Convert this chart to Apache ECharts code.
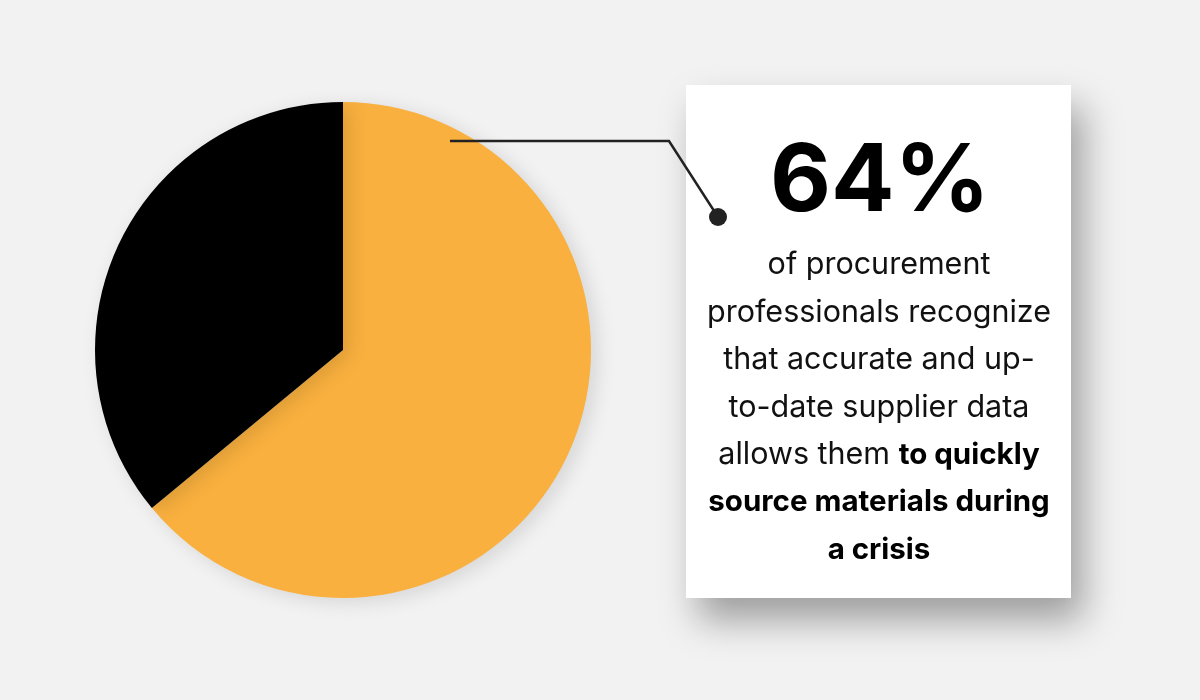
<!DOCTYPE html>
<html>
<head>
<meta charset="utf-8">
<script src="https://cdn.jsdelivr.net/npm/echarts@6/dist/echarts.min.js"></script>
<style>
  html, body { margin: 0; padding: 0; background: #f2f2f2; }
  #main { width: 1200px; height: 700px; }
</style>
</head>
<body>
<div id="main"></div>
<script>
var categories = ['Recognize', 'Other'];
var values = [64, 36];
var colors = ['#F9B03E', '#000000'];
var headline = '64%';
// each line of the card text, bold parts marked with {b|...}
var bodyLines = [
  '{n|of procurement}',
  '{n|professionals recognize}',
  '{n|that accurate and up-}',
  '{n|to-date supplier data}',
  '{n|allows them }{b|to quickly}',
  '{b|source materials during}',
  '{b|a crisis}'
];

var chart = echarts.init(document.getElementById('main'));

var font = 'Inter';
var textStyleRich = {
  n: { fontFamily: font, fontSize: 30.5, fontWeight: 400, fill: '#111' },
  b: { fontFamily: font, fontSize: 29.5, fontWeight: 700, fill: '#000' }
};

var graphics = [
  {
    type: 'rect',
    shape: { x: 686, y: 85, width: 385, height: 513 },
    style: {
      fill: '#ffffff',
      shadowBlur: 35,
      shadowOffsetX: 12,
      shadowOffsetY: 22,
      shadowColor: 'rgba(0,0,0,0.35)'
    },
    z: 1
  },
  {
    type: 'polyline',
    shape: { points: [[450, 141], [669, 141], [718, 217]] },
    style: { stroke: '#222', lineWidth: 2.5, fill: null },
    z: 5
  },
  {
    type: 'circle',
    shape: { cx: 718, cy: 217, r: 9 },
    style: { fill: '#222' },
    z: 5
  },
  {
    type: 'text',
    x: 880, y: 183,
    style: {
      text: headline,
      fontFamily: font,
      fontSize: 94,
      fontWeight: 700,
      fill: '#000',
      align: 'center',
      verticalAlign: 'middle'
    },
    z: 5
  }
];

bodyLines.forEach(function (line, i) {
  graphics.push({
    type: 'text',
    x: 879,
    y: 265 + i * 47.5,
    style: {
      text: line,
      rich: textStyleRich,
      align: 'center',
      verticalAlign: 'middle'
    },
    z: 5
  });
});

var option = {
  backgroundColor: '#f2f2f2',
  animation: false,
  color: colors,
  series: [{
    type: 'pie',
    center: [343, 350],
    radius: [0, 248],
    startAngle: 90,
    clockwise: true,
    label: { show: false },
    labelLine: { show: false },
    itemStyle: {
      borderWidth: 0,
      shadowBlur: 20,
      shadowOffsetX: 6,
      shadowOffsetY: 4,
      shadowColor: 'rgba(0,0,0,0.12)'
    },
    emphasis: { disabled: true },
    data: categories.map(function (c, i) {
      return { name: c, value: values[i] };
    })
  }],
  graphic: graphics
};

chart.setOption(option);
</script>
</body>
</html>
